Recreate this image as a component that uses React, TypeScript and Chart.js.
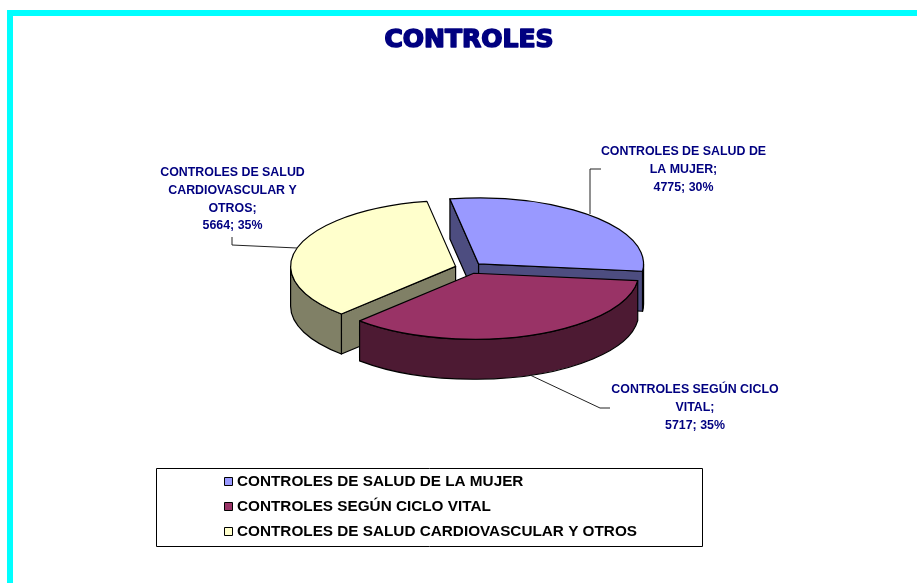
import React, { useEffect, useRef } from "react";
import { Chart, registerables } from "chart.js";

Chart.register(...registerables);

const categories = [
  "CONTROLES DE SALUD DE LA MUJER",
  "CONTROLES SEGÚN CICLO VITAL",
  "CONTROLES DE SALUD CARDIOVASCULAR Y OTROS",
];
const values = [4775, 5717, 5664];
const percents = ["30%", "35%", "35%"];
const topColors = ["#9999FF", "#993366", "#FFFFCC"];
const wallColors = ["#4D4D80", "#4D1A33", "#808066"];
const chartTitle = "CONTROLES";
const labelLines = [
  ["CONTROLES DE SALUD DE", "LA MUJER;"],
  ["CONTROLES SEGÚN CICLO", "VITAL;"],
  ["CONTROLES DE SALUD", "CARDIOVASCULAR Y", "OTROS;"],
];

const SQUASH = 0.4;
const EXPLODE = 14;
const DEPTH = 40;
const NAVY = "#000080";

const labelBoxes = [
  { x: 683.5, y: 152 },
  { x: 695, y: 390 },
  { x: 232.5, y: 173 },
];
const leaders = [
  [[590, 214], [590, 169], [601, 169]],
  [[530, 375], [600, 408], [610, 408]],
  [[297, 248], [232, 245], [232, 237]],
];

const pie3d = {
  id: "pie3d",
  beforeDatasetDraw(chart: any, args: any) {
    const { ctx } = chart;
    const arcs = args.meta.data.map((el: any, i: number) => {
      const p = el.getProps(["x", "y", "startAngle", "endAngle", "outerRadius"], true);
      const mid = (p.startAngle + p.endAngle) / 2;
      return {
        i,
        a: p.startAngle,
        b: p.endAngle,
        r: p.outerRadius,
        mid,
        cx: p.x + EXPLODE * Math.cos(mid),
        cy: p.y + EXPLODE * SQUASH * Math.sin(mid),
      };
    });
    arcs.sort((u: any, v: any) => Math.sin(u.mid) - Math.sin(v.mid));
    ctx.save();
    ctx.lineWidth = 1.2;
    ctx.strokeStyle = "#000";
    ctx.lineJoin = "round";
    for (const s of arcs) {
      const ry = s.r * SQUASH;
      const rim = (t: number) => [s.cx + s.r * Math.cos(t), s.cy + ry * Math.sin(t)];
      ctx.fillStyle = wallColors[s.i];
      const face = (t: number) => {
        const [x, y] = rim(t);
        ctx.beginPath();
        ctx.moveTo(s.cx, s.cy);
        ctx.lineTo(x, y);
        ctx.lineTo(x, y + DEPTH);
        ctx.lineTo(s.cx, s.cy + DEPTH);
        ctx.closePath();
        ctx.fill();
        ctx.stroke();
      };
      if (Math.cos(s.a) < 0) face(s.a);
      if (Math.cos(s.b) > 0) face(s.b);
      const va = Math.max(s.a, 0);
      const vb = Math.min(s.b, Math.PI);
      if (vb > va) {
        ctx.beginPath();
        ctx.ellipse(s.cx, s.cy, s.r, ry, 0, va, vb, false);
        ctx.ellipse(s.cx, s.cy + DEPTH, s.r, ry, 0, vb, va, true);
        ctx.closePath();
        ctx.fill();
        ctx.stroke();
      }
      ctx.beginPath();
      ctx.moveTo(s.cx, s.cy);
      ctx.ellipse(s.cx, s.cy, s.r, ry, 0, s.a, s.b, false);
      ctx.closePath();
      ctx.fillStyle = topColors[s.i];
      ctx.fill();
      ctx.stroke();
    }
    ctx.restore();
    return false;
  },
  afterDraw(chart: any) {
    const { ctx } = chart;
    ctx.save();

    // thicken the title
    const tb = chart.titleBlock;
    ctx.font = "bold 25px 'DejaVu Sans'";
    ctx.textAlign = "center";
    ctx.textBaseline = "middle";
    ctx.strokeStyle = NAVY;
    ctx.lineWidth = 1.6;
    ctx.lineJoin = "round";
    ctx.strokeText(chartTitle, tb.left + tb.width / 2, tb.top + 25 + 15);

    // leader lines
    ctx.strokeStyle = "#222";
    ctx.lineWidth = 1;
    for (const pts of leaders) {
      ctx.beginPath();
      pts.forEach(([x, y], k) => (k ? ctx.lineTo(x, y) : ctx.moveTo(x, y)));
      ctx.stroke();
    }

    // data labels
    ctx.fillStyle = NAVY;
    ctx.font = "bold 12.4px 'Liberation Sans'";
    labelLines.forEach((lines, i) => {
      const all = [...lines, `${values[i]}; ${percents[i]}`];
      all.forEach((t, k) => ctx.fillText(t, labelBoxes[i].x, labelBoxes[i].y + k * 17.6));
    });

    // legend
    ctx.strokeStyle = "#000";
    ctx.strokeRect(156.5, 468.5, 546, 78);
    ctx.font = "bold 15.3px 'Liberation Sans'";
    ctx.textAlign = "left";
    categories.forEach((c, i) => {
      const y = 482 + i * 25;
      ctx.fillStyle = topColors[i];
      ctx.fillRect(224.5, y - 4.5, 8, 8);
      ctx.strokeRect(224.5, y - 4.5, 8, 8);
      ctx.fillStyle = "#000";
      ctx.fillText(c, 237, y);
    });
    ctx.restore();
  },
};

export default function App() {
  const ref = useRef<HTMLCanvasElement>(null);
  useEffect(() => {
    document.body.style.margin = "0";
    const chart = new Chart(ref.current as HTMLCanvasElement, {
      type: "pie",
      data: {
        labels: categories,
        datasets: [{ data: values, backgroundColor: topColors, radius: 165 } as any],
      },
      options: {
        responsive: false,
        animation: false,
        rotation: -10,
        layout: { padding: { left: 21, bottom: 102 } },
        plugins: {
          legend: { display: false },
          tooltip: { enabled: false },
          title: {
            display: true,
            text: chartTitle,
            color: NAVY,
            font: { family: "'DejaVu Sans'", size: 25, weight: "bold" },
            padding: { top: 25, bottom: 0 },
          },
        },
      } as any,
      plugins: [pie3d as any],
    });
    return () => chart.destroy();
  }, []);
  return (
    <div style={{ position: "relative", width: 917, height: 583, overflow: "hidden", background: "#fff" }}>
      <div
        style={{
          position: "absolute",
          left: 7,
          top: 10,
          right: 0,
          bottom: 0,
          borderTop: "6px solid #00FFFF",
          borderLeft: "6px solid #00FFFF",
        }}
      />
      <canvas ref={ref} width={917} height={583} style={{ position: "absolute", left: 0, top: 0, display: "block" }} />
    </div>
  );
}
